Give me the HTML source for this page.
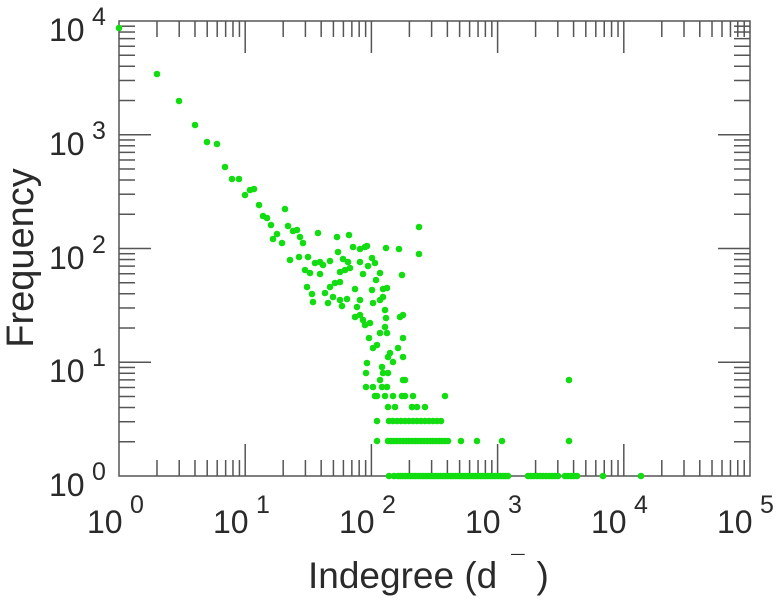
<!DOCTYPE html>
<html><head><meta charset="utf-8"><style>
html,body{margin:0;padding:0;background:#fff;}
svg{display:block;font-family:"Liberation Sans",sans-serif;}
</style></head><body>
<svg id="s" width="778" height="600" viewBox="0 0 778 600" xmlns="http://www.w3.org/2000/svg">
<rect width="778" height="600" fill="#fff"/>
<g id="ticks" stroke="#555" stroke-width="1.5" fill="none"></g>
<rect x="119" y="21" width="631" height="455" fill="none" stroke="#555" stroke-width="1.5"/>
<g id="pts" fill="#11dd11"></g>
<g fill="#2a2a2a" font-size="32">
<text x="49" y="41">10</text><text x="92" y="25" font-size="25">4</text>
<text x="49" y="155">10</text><text x="92" y="139" font-size="25">3</text>
<text x="49" y="269">10</text><text x="92" y="253" font-size="25">2</text>
<text x="49" y="382">10</text><text x="92" y="366" font-size="25">1</text>
<text x="49" y="496">10</text><text x="92" y="480" font-size="25">0</text>
<text x="87" y="533">10</text><text x="130" y="513" font-size="25">0</text>
<text x="213" y="533">10</text><text x="256" y="513" font-size="25">1</text>
<text x="339" y="533">10</text><text x="382" y="513" font-size="25">2</text>
<text x="465" y="533">10</text><text x="508" y="513" font-size="25">3</text>
<text x="591" y="533">10</text><text x="634" y="513" font-size="25">4</text>
<text x="717" y="533">10</text><text x="760" y="513" font-size="25">5</text>
</g>
<text x="308" y="588" font-size="37" fill="#2a2a2a">Indegree (d<tspan dx="14" dy="-16" font-size="24">¯</tspan><tspan dx="12" dy="16">)</tspan></text>
<text transform="translate(33,258) rotate(-90)" text-anchor="middle" font-size="38" fill="#2a2a2a">Frequency</text>
</svg>
<script>
var NS="http://www.w3.org/2000/svg";
var L=119,R=750,T=21,B=476,DX=126.2,DY=113.75;
var tg=document.getElementById('ticks');
function ln(x1,y1,x2,y2){var l=document.createElementNS(NS,'line');l.setAttribute('x1',x1);l.setAttribute('y1',y1);l.setAttribute('x2',x2);l.setAttribute('y2',y2);tg.appendChild(l);}
for(var d=0;d<5;d++){for(var k=1;k<10;k++){var x=L+DX*(d+Math.log10(k));var len=(k==1)?32:16;if(k==1&&d==0)continue;ln(x,B,x,B-len);ln(x,T,x,T+len);}}
for(var d=0;d<4;d++){for(var k=1;k<10;k++){var y=B-DY*(d+Math.log10(k));var len=(k==1)?32:16;if(k==1&&d==0)continue;ln(L,y,L+len,y);ln(R,y,R-len,y);}}
var P=[[119,28],[157,74],[179,101],[195,125],[207,142],[217,144],[225,167],[232,179],[239,179],[245,195],[250,190],[254,189],[259,205],[263,216],[267,218],[285,209],[271,225],[277,234],[273,239],[282,243],[288,226],[293,231],[297,230],[300,237],[303,243],[318,233],[337,237],[349,235],[290,260],[299,257],[308,257],[315,263],[320,262],[323,265],[330,261],[338,252],[343,259],[348,262],[353,247],[360,249],[365,247],[367,246],[386,248],[399,249],[419,227],[419,254],[305,270],[310,273],[320,274],[340,272],[345,270],[350,268],[360,262],[368,266],[372,258],[375,263],[380,273],[402,275],[363,274],[307,287],[312,294],[313,302],[325,293],[330,287],[335,283],[340,282],[333,297],[328,303],[340,300],[347,299],[342,306],[355,289],[360,300],[357,307],[355,317],[360,315],[363,320],[365,325],[370,323],[373,303],[372,290],[376,280],[383,289],[387,288],[383,297],[380,300],[385,310],[386,318],[385,327],[400,317],[403,315],[380,333],[387,333],[369,338],[377,345],[373,348],[398,348],[403,338],[390,353],[388,357],[393,362],[403,357],[367,363],[366,373],[382,367],[383,373],[388,373],[380,380],[403,380],[405,380],[366,387],[373,387],[382,387],[387,387],[375,396],[377,396],[385,396],[393,396],[402,396],[405,396],[413,396],[445,396],[388,407],[395,407],[412,407],[417,407],[425,407],[569,380],[377,421],[377,441],[461,441],[477,441],[502,441],[569,441],[389,476],[394,476],[603,476],[641,476]];
for(var x=389;x<=441;x+=4)P.push([x,421]);
for(var x=388;x<=450;x+=3)P.push([x,441]);
for(var x=398;x<=510;x+=2.5)P.push([x,476]);
for(var x=528;x<=560;x+=3)P.push([x,476]);
for(var x=565;x<=577;x+=3)P.push([x,476]);
var pg=document.getElementById('pts');
P.forEach(function(p){var c=document.createElementNS(NS,'circle');c.setAttribute('cx',p[0]);c.setAttribute('cy',p[1]);c.setAttribute('r',3.3);pg.appendChild(c);});
</script>
</body></html>
